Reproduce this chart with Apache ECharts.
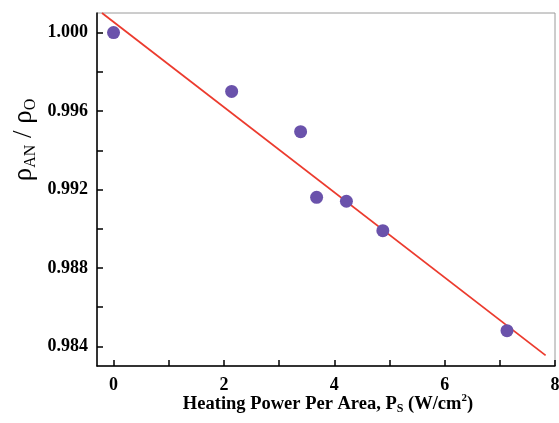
<!DOCTYPE html>
<html>
<head>
<meta charset="utf-8">
<script src="https://cdn.jsdelivr.net/npm/echarts@6/dist/echarts.min.js"></script>
<style>html,body{margin:0;padding:0;background:#fff}#c{width:559px;height:423px}</style>
</head>
<body>
<div id="c"></div>
<script>
const xValues = [0, 2.14, 3.39, 3.68, 4.22, 4.88, 7.13];
const yValues = [1.0000, 0.9970, 0.99495, 0.9916, 0.9914, 0.9899, 0.9848];
const fitX = [-0.21, 7.83];
const fitY = [1.0010, 0.98354];
const xTickValues = [0, 1, 2, 3, 4, 5, 6, 7, 8];
const xTickLabels = [0, 2, 4, 6, 8];
const yTickValues = [0.984, 0.986, 0.988, 0.990, 0.992, 0.994, 0.996, 0.998, 1.000];
const yTickLabels = [0.984, 0.988, 0.992, 0.996, 1.000];

const FONT = '"Liberation Serif", "Times New Roman", serif';
const chart = echarts.init(document.getElementById('c'));
chart.setOption({
  animation: false,
  backgroundColor: '#fff',
  grid: { left: 97, right: 4, top: 13, bottom: 57, containLabel: false, outerBoundsMode: 'none', show: true, borderColor: '#9a9a9a', borderWidth: 1, backgroundColor: 'transparent' },
  xAxis: {
    type: 'value', min: -0.3, max: 8,
    axisLine: { show: true, onZero: false, lineStyle: { color: '#000', width: 1.5 } },
    axisTick: { show: true, inside: true, length: 6, customValues: xTickValues, lineStyle: { color: '#000', width: 1.5 } },
    axisLabel: { customValues: xTickLabels, fontFamily: FONT, fontWeight: 'bold', fontSize: 18, color: '#000', margin: 10, hideOverlap: false },
    splitLine: { show: false }
  },
  yAxis: {
    type: 'value', min: 0.983, max: 1.001,
    axisLine: { show: true, onZero: false, lineStyle: { color: '#000', width: 1.5 } },
    axisTick: { show: true, inside: true, length: 6, customValues: yTickValues, lineStyle: { color: '#000', width: 1.5 } },
    axisLabel: { customValues: yTickLabels, formatter: v => v.toFixed(3), fontFamily: FONT, fontWeight: 'bold', fontSize: 18, color: '#000', margin: 9 },
    splitLine: { show: false }
  },
  series: [
    {
      type: 'line', data: fitX.map((x, i) => [x, fitY[i]]), symbol: 'none',
      lineStyle: { color: '#ec3b2e', width: 1.8 }, z: 2
    },
    {
      type: 'scatter', data: xValues.map((x, i) => [x, yValues[i]]), symbolSize: 13,
      itemStyle: { color: '#6a52ab', opacity: 1 }, z: 3
    }
  ],
  graphic: [
    {
      type: 'text', x: 24, y: 140, rotation: Math.PI / 2, origin: [0, 0],
      style: {
        text: '{n|ρ}{s|AN}{n| / ρ}{s|O}', align: 'center', verticalAlign: 'middle',
        rich: {
          n: { fontFamily: FONT, fontSize: 27, lineHeight: 30, fill: '#000', verticalAlign: 'middle' },
          s: { fontFamily: FONT, fontSize: 16, lineHeight: 14, fill: '#000', verticalAlign: 'bottom' }
        }
      }
    },
    {
      type: 'text', x: 328, y: 404,
      style: {
        text: '{n|Heating Power Per Area, P}{s|S}{n| (W/cm}{p|2}{n|)}', align: 'center', verticalAlign: 'middle',
        rich: {
          n: { fontFamily: FONT, fontWeight: 'bold', fontSize: 18.5, lineHeight: 22, fill: '#000' },
          s: { fontFamily: FONT, fontWeight: 'bold', fontSize: 12, lineHeight: 10, fill: '#000', verticalAlign: 'bottom' },
          p: { fontFamily: FONT, fontWeight: 'bold', fontSize: 11, lineHeight: 14, fill: '#000', verticalAlign: 'top' }
        }
      }
    }
  ]
});
</script>
</body>
</html>
